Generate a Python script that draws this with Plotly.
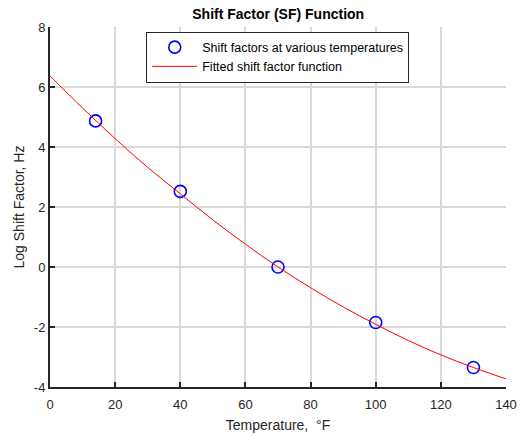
import plotly.graph_objects as go

# Measured shift factors
temps_measured = [14, 40, 70, 100, 130]
log_sf_measured = [4.87, 2.52, 0.0, -1.85, -3.35]

# Fitted shift factor function, sampled along temperature
temps_fit = [0, 10, 20, 30, 40, 50, 60, 70, 80, 90, 100, 110, 120, 130, 140]
log_sf_fit = [6.37, 5.30, 4.28, 3.32, 2.44, 1.57, 0.76, 0.0, -0.69, -1.33,
              -1.91, -2.45, -2.93, -3.35, -3.73]

x_ticks = [0, 20, 40, 60, 80, 100, 120, 140]
y_ticks = [-4, -2, 0, 2, 4, 6, 8]
y_tick_labels = ["-4", "-2", "0", "2", "4", "6", "8"]

font_family = "Liberation Sans, Arial, sans-serif"
text_color = "#262626"

fig = go.Figure()
fig.add_trace(go.Scatter(
    x=temps_measured, y=log_sf_measured, mode="markers",
    name="Shift factors at various temperatures",
    marker=dict(symbol="circle-open", size=12, color="#0000ff",
                line=dict(width=1.6, color="#0000ff")),
))
fig.add_trace(go.Scatter(
    x=temps_fit, y=log_sf_fit, mode="lines",
    name="Fitted shift factor function",
    line=dict(color="#ff0000", width=1, shape="spline"),
))

axis_common = dict(
    showgrid=True, gridcolor="#d9d9d9", gridwidth=1.5,
    showline=True, linecolor="#262626", linewidth=2,
    ticks="inside", ticklen=5, tickcolor="#262626", tickwidth=2,
    zeroline=False, mirror=False, automargin=False,
    tickfont=dict(family=font_family, size=13, color=text_color),
)

fig.update_layout(
    width=520, height=436,
    margin=dict(l=50, r=14, t=27, b=49),
    paper_bgcolor="white", plot_bgcolor="white",
    title=dict(text="<b>Shift Factor (SF) Function</b>", x=0.535, xanchor="center",
               y=0.968, yanchor="middle",
               font=dict(family=font_family, size=14, color="black")),
    xaxis=dict(range=[0, 140], tickvals=x_ticks, ticklabelstandoff=4,
               title=dict(text="Temperature,  °F", standoff=10,
                          font=dict(family=font_family, size=14, color=text_color)),
               **axis_common),
    yaxis=dict(range=[-4, 8], tickvals=y_ticks, ticktext=y_tick_labels,
               title=dict(text="Log Shift Factor, Hz", standoff=6,
                          font=dict(family=font_family, size=14, color=text_color)),
               **axis_common),
    legend=dict(x=0.211, y=0.9875, xanchor="left", yanchor="top",
                bgcolor="white", bordercolor="#262626", borderwidth=1,
                font=dict(family=font_family, size=12.5, color="black"),
                tracegroupgap=0, itemwidth=45),
    showlegend=True,
)

fig.write_html("out.html")
